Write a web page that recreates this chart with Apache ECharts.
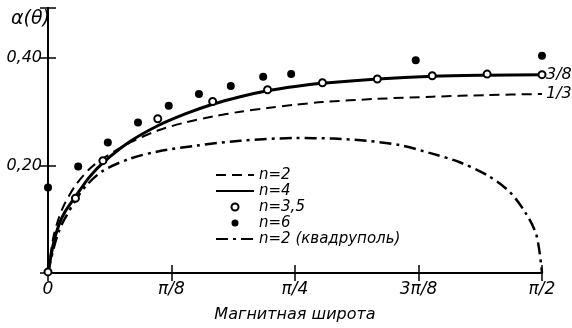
<!DOCTYPE html>
<html>
<head>
<meta charset="utf-8">
<script src="https://cdn.jsdelivr.net/npm/echarts@6/dist/echarts.min.js"></script>
<style>
  html, body { margin: 0; padding: 0; background: #fff; }
  #chart { width: 572px; height: 328px; }
</style>
</head>
<body>
<div id="chart"></div>
<script>
// углы в градусах (0..90 = 0..π/2)
var tickLabels = ['0', 'π/8', 'π/4', '3π/8', 'π/2'];

// n = 2 (штрих)
var n2Deg = [0, 1, 2, 3, 5, 7.5, 10, 15, 20, 25, 30, 35, 40, 45, 50, 60, 70, 80, 90];
var n2Val = [0, 0.068, 0.103, 0.128, 0.163, 0.193, 0.213, 0.243, 0.265, 0.280, 0.291, 0.300, 0.307, 0.313, 0.318, 0.324, 0.328, 0.331, 0.333];

// n = 4 (сплошная)
var n4Deg = [0, 1, 2, 3, 5, 7.5, 10, 15, 20, 25, 30, 35, 40, 45, 50, 60, 70, 80, 90];
var n4Val = [0, 0.055, 0.09, 0.112, 0.142, 0.178, 0.205, 0.245, 0.274, 0.296, 0.314, 0.328, 0.339, 0.347, 0.353, 0.361, 0.366, 0.368, 0.369];

// n = 3,5 (светлые кружки)
var n35Deg = [0, 5, 10, 20, 30, 40, 50, 60, 70, 80, 90];
var n35Val = [0.002, 0.139, 0.209, 0.287, 0.319, 0.341, 0.354, 0.361, 0.367, 0.370, 0.369];

// n = 6 (тёмные точки)
var n6Deg = [0, 5.5, 10.9, 16.4, 22, 27.5, 33.3, 39.2, 44.3, 67, 90];
var n6Val = [0.159, 0.198, 0.243, 0.280, 0.311, 0.333, 0.348, 0.365, 0.370, 0.396, 0.404];

// n = 2 (квадруполь), штрих-пунктир
var qDeg = [0, 1, 2, 3, 5, 7, 10, 15, 20, 27, 35, 45, 52, 58, 64, 70, 75, 80, 84, 87, 89, 90];
var qVal = [0, 0.045, 0.078, 0.10, 0.135, 0.163, 0.190, 0.213, 0.226, 0.237, 0.246, 0.251, 0.250, 0.246, 0.238, 0.222, 0.206, 0.182, 0.152, 0.112, 0.07, 0];

function pairs(xs, ys) {
  var out = [];
  for (var i = 0; i < xs.length; i++) out.push([xs[i], ys[i]]);
  return out;
}

var FONT = 'DejaVu Sans';
var yMax = 0.493;

var myChart = echarts.init(document.getElementById('chart'));
var option = {
  animation: false,
  title: {
    text: 'α(θ)', left: 6, top: 5,
    textStyle: { fontFamily: FONT, fontStyle: 'italic', fontWeight: 'normal', fontSize: 19, color: '#000' }
  },
  legend: {
    orient: 'vertical', left: 215, top: 167, padding: 0,
    itemWidth: 38, itemHeight: 7, itemGap: 0,
    textStyle: { fontFamily: FONT, fontStyle: 'italic', fontSize: 15, lineHeight: 16, color: '#000' },
    data: [
      { name: 'n=2', itemStyle: { opacity: 0 } },
      { name: 'n=4', itemStyle: { opacity: 0 } },
      'n=3,5',
      'n=6',
      { name: 'n=2 (квадруполь)', itemStyle: { opacity: 0 } }
    ]
  },
  grid: { left: 48, right: 30, top: 8, bottom: 53 },
  xAxis: [{
    type: 'value', min: 0, max: 90, interval: 22.5,
    name: 'Магнитная широта', nameLocation: 'middle', nameGap: 34,
    nameTextStyle: { fontFamily: FONT, fontStyle: 'italic', fontSize: 16, color: '#000' },
    axisLine: { lineStyle: { color: '#000', width: 2 } },
    axisTick: { inside: true, length: 8, lineStyle: { color: '#000', width: 1.5 } },
    axisLabel: {
      margin: 8, fontFamily: FONT, fontStyle: 'italic', fontSize: 17, color: '#000',
      formatter: function (v) { return tickLabels[Math.round(v / 22.5)]; }
    },
    splitLine: { show: false }
  }, {
    type: 'value', position: 'top', min: 0, max: 90, interval: 22.5,
    axisLine: { lineStyle: { color: '#000', width: 2 } },
    axisTick: { inside: true, length: 8, lineStyle: { color: '#000', width: 1.5 } },
    axisLabel: { show: false }, splitLine: { show: false }
  }],
  yAxis: [{
    type: 'value', min: 0, max: yMax, interval: 0.2,
    axisLine: { show: true, lineStyle: { color: '#000', width: 2 } },
    axisTick: { show: true, inside: true, length: 8, lineStyle: { color: '#000', width: 1.5 } },
    axisLabel: {
      margin: 6, fontFamily: FONT, fontStyle: 'italic', fontSize: 16, color: '#000',
      formatter: function (v) {
        if (Math.abs(v - 0.2) < 1e-6) return '0,20';
        if (Math.abs(v - 0.4) < 1e-6) return '0,40';
        return '';
      }
    },
    splitLine: { show: false }
  }, {
    type: 'value', position: 'right', min: 0, max: yMax, interval: 0.2,
    axisLine: { show: true, lineStyle: { color: '#000', width: 2 } },
    axisTick: { show: true, inside: true, length: 8, lineStyle: { color: '#000', width: 1.5 } },
    axisLabel: { show: false }, splitLine: { show: false }
  }],
  series: [{
    name: 'n=2', type: 'line', smooth: 0.3,
    symbol: 'none', data: pairs(n2Deg, n2Val),
    itemStyle: { color: '#000' },
    lineStyle: { color: '#000', width: 2, type: [10, 6] },
    endLabel: {
      show: true, formatter: '1/3', distance: 4,
      fontFamily: FONT, fontStyle: 'italic', fontSize: 16, color: '#000'
    }
  }, {
    name: 'n=4', type: 'line', smooth: 0.3,
    symbol: 'none', data: pairs(n4Deg, n4Val),
    itemStyle: { color: '#000' },
    lineStyle: { color: '#000', width: 3 },
    endLabel: {
      show: true, formatter: '3/8', distance: 4,
      fontFamily: FONT, fontStyle: 'italic', fontSize: 16, color: '#000'
    }
  }, {
    name: 'n=3,5', type: 'scatter', symbol: 'emptyCircle', symbolSize: 7, z: 5,
    data: pairs(n35Deg, n35Val),
    itemStyle: { color: '#000', borderColor: '#000', borderWidth: 1.5, opacity: 1 }
  }, {
    name: 'n=6', type: 'scatter', symbol: 'circle', symbolSize: 8, z: 5,
    data: pairs(n6Deg, n6Val),
    itemStyle: { color: '#000', opacity: 1 }
  }, {
    name: 'n=2 (квадруполь)', type: 'line', smooth: 0.3,
    symbol: 'none', data: pairs(qDeg, qVal),
    itemStyle: { color: '#000' },
    lineStyle: { color: '#000', width: 2.5, type: [12, 5, 3, 5] }
  }]
};
myChart.setOption(option);
</script>
</body>
</html>
